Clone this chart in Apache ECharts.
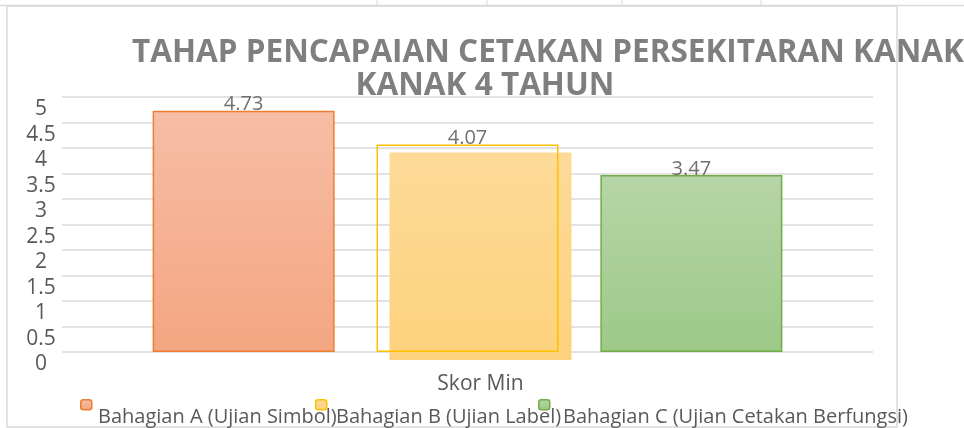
<!DOCTYPE html>
<html><head><meta charset="utf-8">
<script src="https://cdn.jsdelivr.net/npm/echarts@6/dist/echarts.min.js"></script>
<style>html,body{margin:0;padding:0;background:#fff}#c{width:964px;height:428px}</style>
</head><body><div id="c"></div>
<script>
const categories = ['Skor Min'];
const seriesNames = ['Bahagian A (Ujian Simbol)', 'Bahagian B (Ujian Label)', 'Bahagian C (Ujian Cetakan Berfungsi)'];
const valuesA = [4.73];
const valuesB = [4.07];
const valuesC = [3.47];
const titleLines = ['TAHAP PENCAPAIAN CETAKAN PERSEKITARAN KANAK', 'KANAK 4 TAHUN'];
const yMin = 0, yMax = 5, yStep = 0.5;

const FONT = 'Open Sans';
function grad(top, bottom) {
  return new echarts.graphic.LinearGradient(0, 0, 0, 1, [{offset: 0, color: top}, {offset: 1, color: bottom}]);
}
const fillA = grad('#F6BEA5', '#F4A581');
const fillB = grad('#FDDA98', '#FDD27D');
const fillC = grad('#B6D5A7', '#9DC988');
const legendFills = [
  {color: fillA, borderColor: '#ED7D31', borderWidth: 1.5},
  {color: fillB, borderColor: '#FFC000', borderWidth: 1.5},
  {color: fillC, borderColor: '#70AD47', borderWidth: 1.5}
];
const iconLeft = [80, 315, 538];
const textLeft = [93, 331, 558];

const chart = echarts.init(document.getElementById('c'), null, {renderer: 'canvas'});
const labelStyle = {show: true, position: 'top', distance: -4, color: '#707070', fontFamily: FONT, fontSize: 20};
const legendText = {color: '#595959', fontFamily: FONT, fontSize: 20};

const legends = [];
seriesNames.forEach(function (n, i) {
  legends.push({data: [{name: n, itemStyle: legendFills[i]}], left: iconLeft[i], top: 399, itemWidth: 11, itemHeight: 10,
    padding: 0, formatter: function () { return ' '; }, textStyle: {fontSize: 1}, selectedMode: false, z: 5});
});
seriesNames.forEach(function (n, i) {
  legends.push({data: [{name: n, icon: 'none'}], left: textLeft[i], top: 407, itemWidth: 0, itemHeight: 14,
    padding: 0, textStyle: legendText, selectedMode: false, z: 4 + i * 0.01});
});

chart.setOption({
  animation: false,
  backgroundColor: '#ffffff',
  title: [
    {text: titleLines[0], left: 132, top: 37, padding: 0,
     textStyle: {fontFamily: FONT, fontWeight: 'bold', fontSize: 31.5, color: '#7f7f7f'}},
    {text: titleLines[1], left: 485, top: 70, padding: 0, textAlign: 'center',
     textStyle: {fontFamily: FONT, fontWeight: 'bold', fontSize: 31.5, color: '#7f7f7f'}}
  ],
  legend: legends,
  grid: [
    {left: 62, right: 91, top: 97, bottom: 76, containLabel: false},
    {left: 75, right: 78, top: 105, bottom: 68, containLabel: false}
  ],
  xAxis: [
    {type: 'category', gridIndex: 0, data: categories,
     axisLine: {show: false}, axisTick: {show: false},
     axisLabel: {margin: 22, color: '#595959', fontFamily: FONT, fontSize: 21, padding: [0, 0, 0, 26]}},
    {type: 'category', gridIndex: 1, data: categories, show: false}
  ],
  yAxis: [
    {type: 'value', gridIndex: 0, min: yMin, max: yMax, interval: yStep,
     axisLine: {show: false}, axisTick: {show: false},
     splitLine: {lineStyle: {color: '#d9d9d9', width: 1.5}},
     axisLabel: {margin: 21, align: 'center', verticalAlign: 'top', lineHeight: 25, hideOverlap: false,
       showMinLabel: true, showMaxLabel: true, color: '#595959', fontFamily: FONT, fontSize: 21}},
    {type: 'value', gridIndex: 1, min: yMin, max: yMax, interval: yStep, show: false}
  ],
  series: [
    {name: seriesNames[0], type: 'bar', xAxisIndex: 0, yAxisIndex: 0, data: valuesA, barWidth: 182, barGap: '23%',
     itemStyle: {color: fillA, borderColor: '#ED7D31', borderWidth: 1.5}, label: labelStyle, z: 3},
    {name: seriesNames[1], type: 'bar', xAxisIndex: 0, yAxisIndex: 0, data: valuesB, barWidth: 182, barGap: '23%',
     itemStyle: {color: 'rgba(0,0,0,0)', borderColor: '#FFC000', borderWidth: 1.5}, label: labelStyle, z: 3},
    {name: seriesNames[2], type: 'bar', xAxisIndex: 0, yAxisIndex: 0, data: valuesC, barWidth: 182, barGap: '23%',
     itemStyle: {color: fillC, borderColor: '#70AD47', borderWidth: 1.5}, label: labelStyle, z: 3},
    {name: seriesNames[1], type: 'bar', xAxisIndex: 1, yAxisIndex: 1, data: valuesB, barWidth: 182,
     itemStyle: {color: fillB}, label: {show: false}, z: 1}
  ],
  graphic: [
    {type: 'rect', shape: {x: 7, y: 6, width: 890, height: 421}, style: {fill: null, stroke: '#d9d9d9', lineWidth: 1.5}, silent: true, z: -1},
    {type: 'line', shape: {x1: 0, y1: 5.5, x2: 964, y2: 5.5}, style: {stroke: '#d9d9d9', lineWidth: 1.5}, silent: true, z: -1},
    {type: 'line', shape: {x1: 377, y1: 0, x2: 377, y2: 6}, style: {stroke: '#d9d9d9', lineWidth: 1}, silent: true, z: -1},
    {type: 'line', shape: {x1: 487, y1: 0, x2: 487, y2: 6}, style: {stroke: '#d9d9d9', lineWidth: 1}, silent: true, z: -1},
    {type: 'line', shape: {x1: 622, y1: 0, x2: 622, y2: 6}, style: {stroke: '#d9d9d9', lineWidth: 1}, silent: true, z: -1},
    {type: 'line', shape: {x1: 761, y1: 0, x2: 761, y2: 6}, style: {stroke: '#d9d9d9', lineWidth: 1}, silent: true, z: -1}
  ]
});
</script>
</body></html>
